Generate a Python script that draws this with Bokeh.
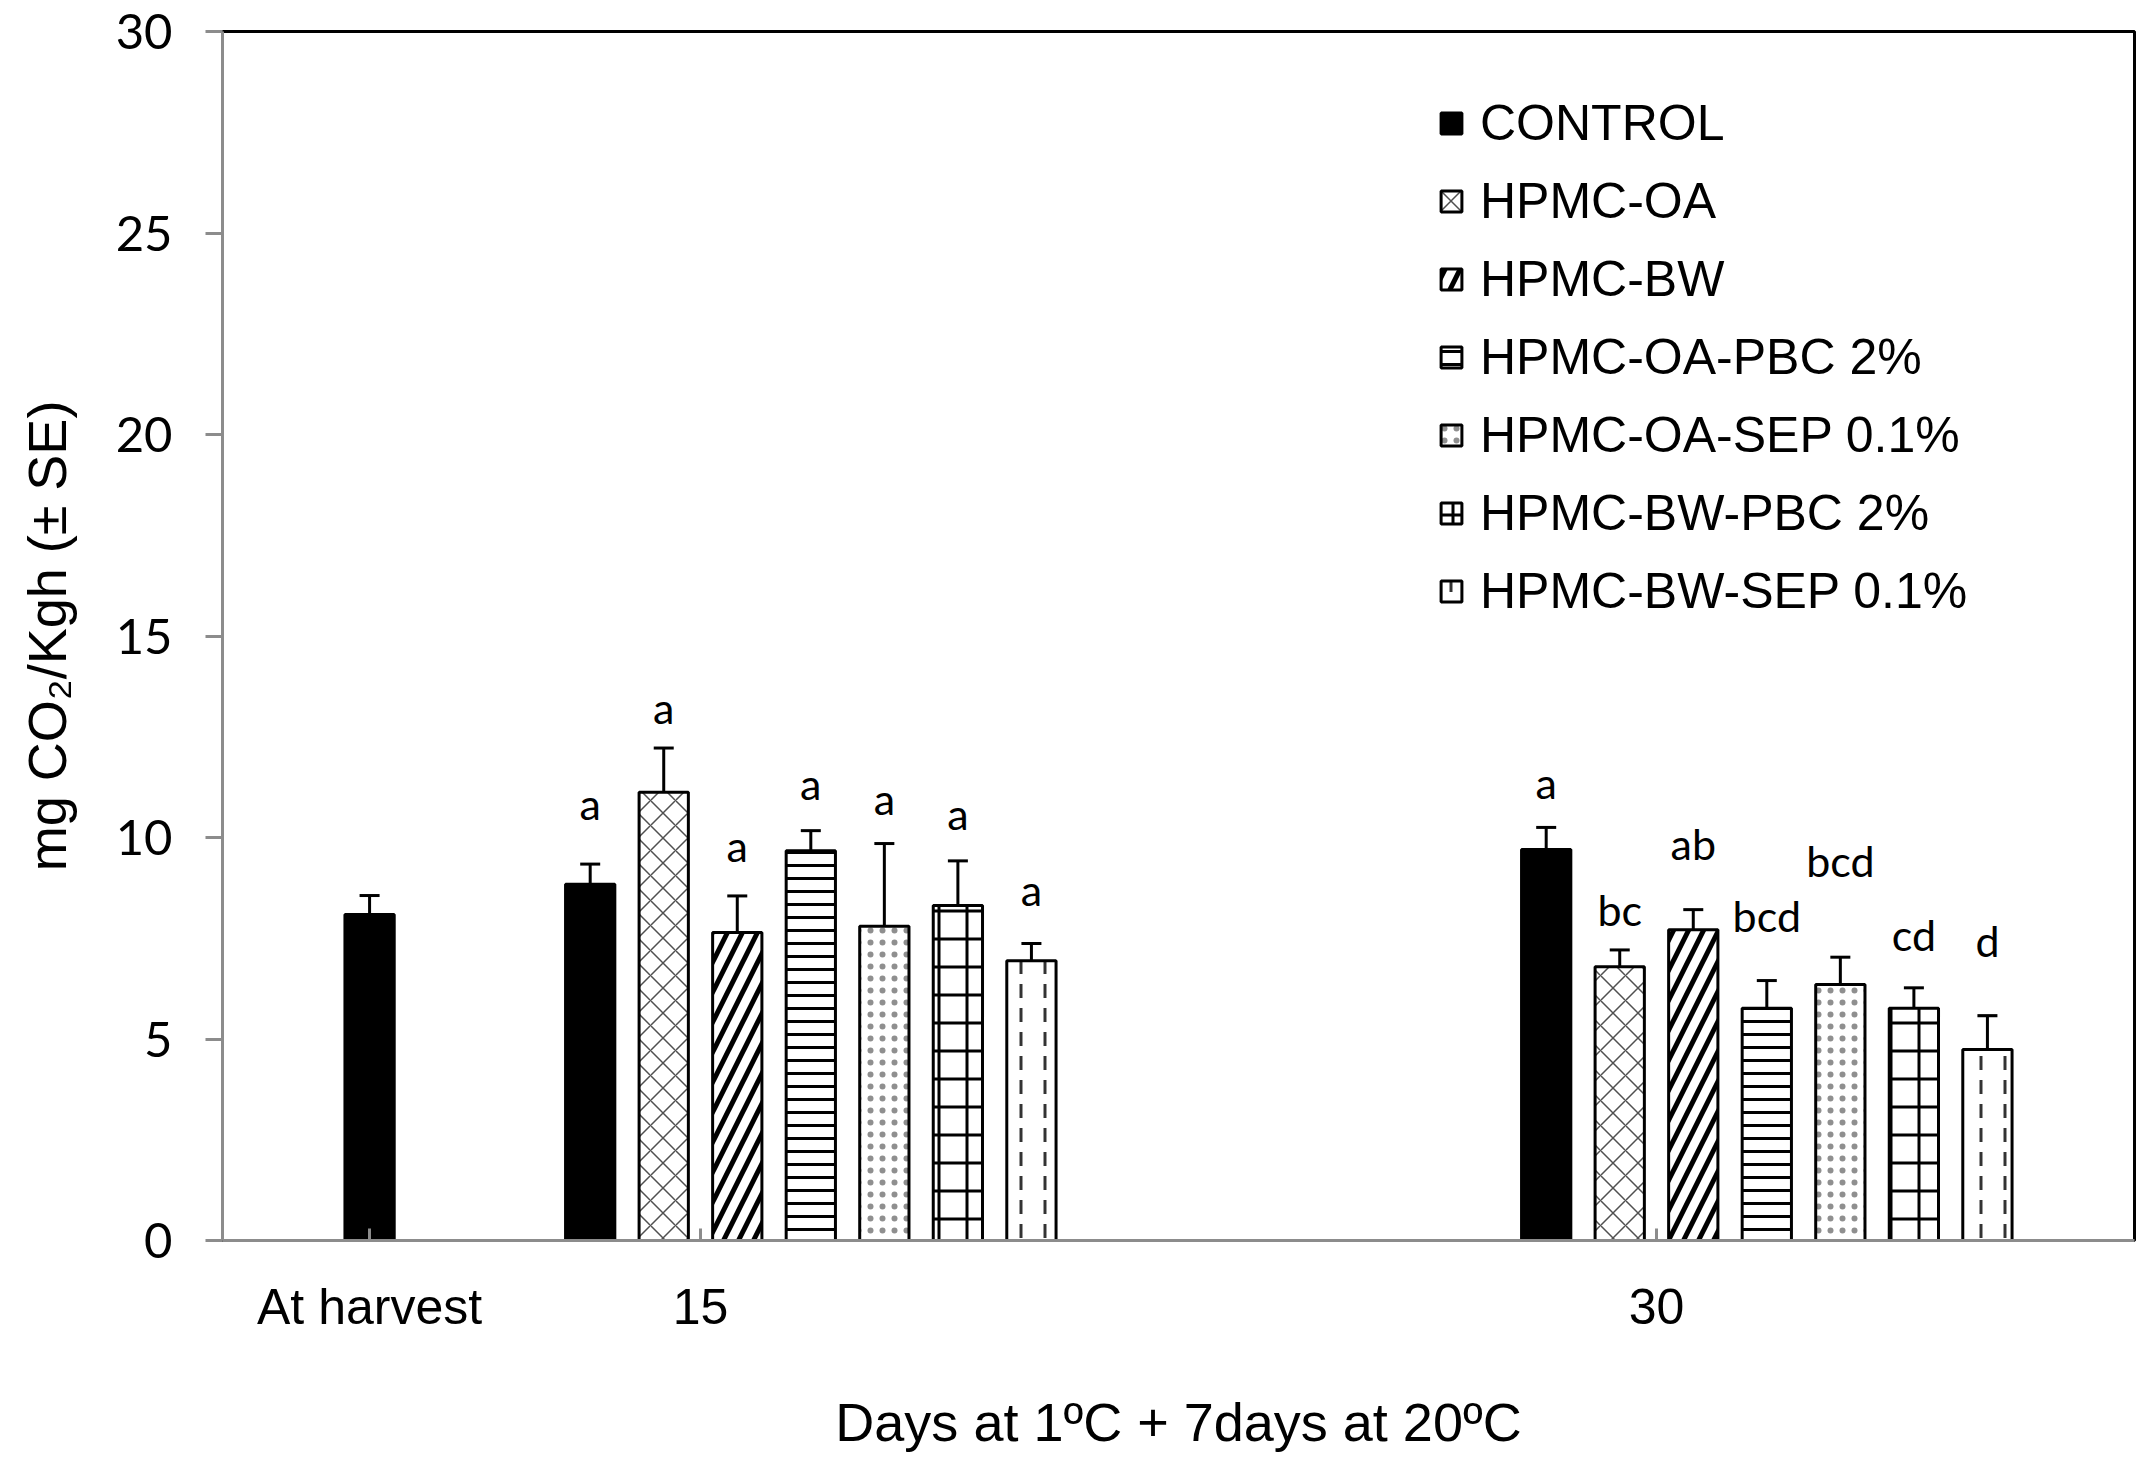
from bokeh.plotting import figure
from bokeh.models import ColumnDataSource, Whisker, TeeHead, FixedTicker, Range1d, Legend, LegendItem
from bokeh.core.properties import value
from bokeh.embed import file_html
from bokeh.resources import INLINE

# treatments (legend order) and x tick labels
treatments = ["CONTROL", "HPMC-OA", "HPMC-BW", "HPMC-OA-PBC 2%",
              "HPMC-OA-SEP 0.1%", "HPMC-BW-PBC 2%", "HPMC-BW-SEP 0.1%"]
x_labels = ["At harvest", "15", "30"]

# respiration rate, mg CO2/Kgh, and standard error
harvest_value = 8.09
harvest_se = 0.47
day15_values = [8.84, 11.12, 7.64, 9.67, 7.80, 8.31, 6.94]
day15_se = [0.50, 1.10, 0.91, 0.50, 2.05, 1.11, 0.43]
day30_values = [9.70, 6.79, 7.71, 5.76, 6.35, 5.76, 4.74]
day30_se = [0.55, 0.42, 0.50, 0.69, 0.68, 0.51, 0.84]

# significance letters and the height they are written at
day15_letters = ["a", "a", "a", "a", "a", "a", "a"]
day15_letter_y = [10.84, 13.22, 9.79, 11.33, 10.96, 10.59, 8.70]
day30_letters = ["a", "bc", "ab", "bcd", "bcd", "cd", "d"]
day30_letter_y = [11.37, 8.22, 9.84, 8.06, 9.42, 7.60, 7.44]

# layout of the slots along the x axis (one slot per bar)
HARVEST_SLOT = 2
DAY15_START = 5
DAY30_START = 18
TICK_SLOTS = [2, 6.5, 19.5]
BAR_W = 0.67

styles = [
    dict(fill_color="black"),
    dict(fill_color="white", hatch_pattern="x", hatch_color="#505050", hatch_scale=25, hatch_weight=1.5),
    dict(fill_color="white", hatch_pattern="/", hatch_color="black", hatch_scale=30, hatch_weight=5),
    dict(fill_color="white", hatch_pattern="-", hatch_color="black", hatch_scale=13, hatch_weight=3),
    dict(fill_color="white", hatch_pattern=".", hatch_color="#333333", hatch_alpha=0.55,
         hatch_scale=12, hatch_weight=1),
    dict(fill_color="white", hatch_pattern="+", hatch_color="black", hatch_scale=28, hatch_weight=3),
    dict(fill_color="white", hatch_pattern=":", hatch_color="#333333", hatch_scale=24, hatch_weight=3),
]

p = figure(frame_width=1912, frame_height=1209,
           min_border_left=222, min_border_top=31, min_border_right=16, min_border_bottom=222,
           x_range=Range1d(0, 26), y_range=Range1d(0, 30),
           output_backend="svg", toolbar_location=None)
p.xgrid.visible = False
p.ygrid.visible = False
p.outline_line_color = "black"
p.outline_line_width = 3

legend_items = []
err_x, err_lo, err_hi = [], [], []
for i, name in enumerate(treatments):
    xs = [DAY15_START + i, DAY30_START + i]
    tops = [day15_values[i], day30_values[i]]
    ses = [day15_se[i], day30_se[i]]
    if i == 0:
        xs = [HARVEST_SLOT] + xs
        tops = [harvest_value] + tops
        ses = [harvest_se] + ses
    src = ColumnDataSource(data=dict(x=xs, top=tops))
    r = p.vbar(x="x", top="top", width=BAR_W, source=src,
               line_color="black", line_width=3, **styles[i])
    legend_items.append(LegendItem(label=name, renderers=[r]))
    for x, t, s in zip(xs, tops, ses):
        err_x.append(x)
        err_lo.append(t)
        err_hi.append(t + s)

# upper error bars only
err_src = ColumnDataSource(data=dict(x=err_x, lower=err_lo, upper=err_hi))
p.add_layout(Whisker(base="x", lower="lower", upper="upper", source=err_src,
                     dimension="height", line_width=3, line_color="black",
                     upper_head=TeeHead(size=20, line_width=3, line_color="black"),
                     lower_head=None))

# significance letters
let_x = [DAY15_START + i for i in range(7)] + [DAY30_START + i for i in range(7)]
let_src = ColumnDataSource(data=dict(x=let_x, y=day15_letter_y + day30_letter_y,
                                     t=day15_letters + day30_letters))
p.text(x="x", y="y", text="t", source=let_src, text_font=value("Lato"),
       text_font_size="43px", text_align="center", text_baseline="middle", text_color="black")

# axes
gray = "#8c8c8c"
p.yaxis.ticker = FixedTicker(ticks=[0, 5, 10, 15, 20, 25, 30])
p.yaxis.minor_tick_line_color = None
p.yaxis.major_tick_out = 17
p.yaxis.major_tick_in = 0
p.yaxis.major_tick_line_color = gray
p.yaxis.major_tick_line_width = 3
p.yaxis.axis_line_color = gray
p.yaxis.axis_line_width = 3
p.yaxis.major_label_text_font = "Lato"
p.yaxis.major_label_text_font_size = "49px"
p.yaxis.major_label_text_color = "black"
p.yaxis.major_label_standoff = 33
p.yaxis.axis_label = "mg CO\u2082/Kgh (\u00b1 SE)"
p.yaxis.axis_label_text_font = "Liberation Sans"
p.yaxis.axis_label_text_font_size = "54px"
p.yaxis.axis_label_text_font_style = "normal"
p.yaxis.axis_label_text_color = "black"
p.yaxis.axis_label_standoff = 36

p.xaxis.ticker = FixedTicker(ticks=TICK_SLOTS)
p.xaxis.major_label_overrides = {t: lab for t, lab in zip(TICK_SLOTS, x_labels)}
p.xaxis.minor_tick_line_color = None
p.xaxis.major_tick_out = 0
p.xaxis.major_tick_in = 12
p.xaxis.major_tick_line_color = gray
p.xaxis.major_tick_line_width = 3
p.xaxis.axis_line_color = gray
p.xaxis.axis_line_width = 3
p.xaxis.major_label_text_font = "Liberation Sans"
p.xaxis.major_label_text_font_size = "50px"
p.xaxis.major_label_text_color = "black"
p.xaxis.major_label_standoff = 38
p.xaxis.axis_label = "Days at 1\u00baC + 7days at 20\u00baC"
p.xaxis.axis_label_text_font = "Liberation Sans"
p.xaxis.axis_label_text_font_size = "54px"
p.xaxis.axis_label_text_font_style = "normal"
p.xaxis.axis_label_text_color = "black"
p.xaxis.axis_label_standoff = 54

legend = Legend(items=legend_items, location=(1216, 610),
                glyph_width=26, glyph_height=26, label_standoff=16,
                label_text_font="Liberation Sans", label_text_font_size="50px",
                label_text_color="black",
                label_height=78, spacing=0, padding=0, margin=0,
                border_line_color=None, background_fill_alpha=0)
p.add_layout(legend)

open("out.html", "w").write(file_html(p, INLINE))
